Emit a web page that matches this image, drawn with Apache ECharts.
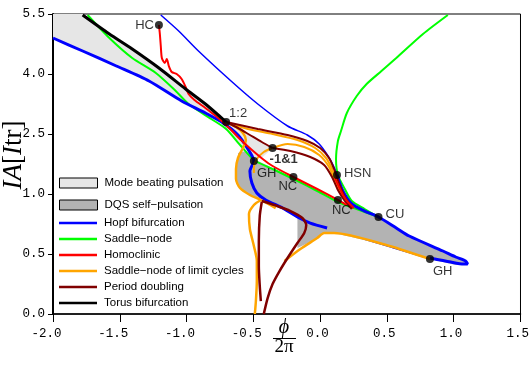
<!DOCTYPE html>
<html><head><meta charset="utf-8">
<script src="https://cdn.jsdelivr.net/npm/echarts@6/dist/echarts.min.js"></script>
<style>html,body{margin:0;padding:0;background:#fff}#c{width:532px;height:379px}</style>
</head><body><div id="c"></div>
<script>
// ---------- tick labels ----------
const xTicks = [-2.0, -1.5, -1.0, -0.5, 0.0, 0.5, 1.0, 1.5];
const yTickLabels = [0.0, 0.5, 1.0, 2.5, 4.0, 5.5];   // equally spaced ticks on the original axis

// ---------- regions (phi/2pi, I_A) ----------
const modeBeatingRegion = [[-2.0,5.5],[-1.778,5.5],[-1.578,5.0],[-1.407,4.625],[-1.207,4.15],[-1.007,3.625],[-0.859,3.25],[-0.704,2.8],[-0.615,2.65],[-0.526,2.475],[-0.437,2.3],[-0.356,2.15],[-0.430,1.925],[-0.496,1.875],[-0.541,2.075],[-0.593,2.2],[-0.704,2.625],[-0.726,2.775],[-0.859,3.025],[-1.037,3.325],[-1.281,3.825],[-1.526,4.2],[-1.778,4.575],[-2.0,4.9]];
const dqsRegion = [[-0.615,2.025],[-0.556,2.075],[-0.496,1.875],[-0.356,1.65],[-0.2,1.4],[-0.022,1.1],[0.133,0.942],[0.274,0.875],[0.437,0.808],[0.570,0.717],[0.667,0.65],[0.919,0.525],[1.067,0.458],[1.104,0.417],[1.015,0.408],[0.822,0.458],[0.519,0.567],[0.104,0.675],[0.030,0.675],[-0.059,0.608],[-0.170,0.55],[-0.170,0.725],[-0.170,0.808],[-0.281,0.883],[-0.407,0.95],[-0.504,0.975],[-0.593,1.125],[-0.630,1.375],[-0.630,1.675],[-0.615,1.9]];

// ---------- bifurcation curves ----------
const hopfLeft = [[-2.0,4.9],[-1.778,4.575],[-1.526,4.2],[-1.281,3.825],[-1.037,3.325],[-0.859,3.025],[-0.726,2.775],[-0.615,2.475],[-0.541,2.125],[-0.496,1.825],[-0.526,1.575],[-0.511,1.275],[-0.474,1.025],[-0.407,0.95],[-0.281,0.883],[-0.170,0.808],[-0.074,0.758],[0.052,0.717]];
const hopfLowerHidden = [[0.052,0.717],[0.274,0.65],[0.548,0.558],[0.822,0.467]];
const hopfRight = [[0.822,0.467],[0.978,0.433],[1.074,0.417],[1.104,0.417],[1.089,0.442],[1.015,0.475],[0.919,0.525],[0.667,0.65],[0.570,0.717],[0.437,0.808],[0.333,0.858],[0.237,0.917],[0.170,1.075],[0.126,1.475]];
const hopfUpper = [[-1.193,5.475],[-1.059,5.075],[-0.911,4.575],[-0.667,3.825],[-0.467,3.25],[-0.244,2.7],[-0.096,2.475],[-0.007,2.25],[0.059,1.95],[0.104,1.675],[0.126,1.475]];
const saddleNode = [[-1.741,5.475],[-1.578,4.9],[-1.407,4.4],[-1.230,4.025],[-1.081,3.575],[-0.985,3.25],[-0.815,2.875],[-0.704,2.625],[-0.593,2.2],[-0.496,1.85],[-0.356,1.625],[-0.2,1.375],[-0.022,1.075],[0.133,0.933],[0.274,0.875],[0.437,0.808],[0.333,0.875],[0.237,0.942],[0.185,1.125],[0.133,1.475],[0.119,1.875],[0.133,2.325],[0.156,2.575],[0.2,3.025],[0.274,3.45],[0.348,3.75],[0.459,4.075],[0.570,4.4],[0.770,5.0],[0.956,5.475]];
const homoclinicA = [[-1.207,5.225],[-1.2,5.0],[-1.193,4.7],[-1.185,4.4],[-1.163,4.275],[-1.148,4.375],[-1.133,4.2],[-1.111,4.05],[-1.074,4.0],[-1.037,3.875],[-1.007,3.675],[-0.985,3.5],[-0.941,3.35],[-0.859,3.15],[-0.763,2.9],[-0.674,2.625],[-0.593,2.35],[-0.519,2.125],[-0.430,1.875],[-0.356,1.7],[-0.2,1.425],[-0.022,1.125],[0.133,0.95],[0.2,0.908]];
const homoclinicB = [[0.111,1.4],[0.156,1.075],[0.2,0.942],[0.252,0.883]];
const snlcLeft = [[-0.704,2.8],[-0.630,2.675],[-0.578,2.525],[-0.556,2.35],[-0.578,2.15],[-0.615,1.9],[-0.630,1.625],[-0.630,1.375],[-0.6,1.15],[-0.526,0.992],[-0.444,0.95],[-0.333,0.883]];
const snlcLowerLeft = [[-0.444,0.95],[-0.496,0.908],[-0.533,0.833],[-0.526,0.708],[-0.496,0.567],[-0.474,0.442],[-0.474,0.275],[-0.481,0.108],[-0.489,0.0]];
const snlcLowerRight = [[-0.267,0.442],[-0.148,0.542],[-0.022,0.633],[0.030,0.675],[0.104,0.675],[0.519,0.567],[0.822,0.458]];
const snlcUpperA = [[-0.704,2.8],[-0.541,2.625],[-0.356,2.5],[-0.170,2.35],[-0.037,2.15],[0.044,1.9],[0.089,1.625],[0.133,1.25],[0.185,0.967],[0.244,0.883]];
const snlcUpperB = [[-0.356,2.15],[-0.244,2.25],[-0.119,2.175],[-0.007,1.975],[0.067,1.675],[0.111,1.325],[0.163,0.992],[0.222,0.9]];
const snlcShort = [[-0.356,2.15],[-0.422,2.05],[-0.474,1.875],[-0.496,1.675],[-0.496,1.525]];
const pdUpperA = [[-0.704,2.8],[-0.467,2.625],[-0.244,2.475],[-0.096,2.325],[0.0,2.15],[0.067,1.9],[0.104,1.625],[0.141,1.275],[0.185,0.975],[0.244,0.883]];
const pdLink = [[-0.704,2.8],[-0.615,2.65],[-0.526,2.475],[-0.437,2.3],[-0.356,2.15]];
const pdUpperB = [[-0.356,2.15],[-0.222,2.075],[-0.074,1.925],[0.030,1.725],[0.089,1.425],[0.133,1.1],[0.185,0.942],[0.237,0.875]];
const pdLowerA = [[-0.437,0.942],[-0.341,0.908],[-0.222,0.858],[-0.133,0.8],[-0.104,0.742],[-0.119,0.675],[-0.170,0.592],[-0.244,0.467],[-0.304,0.358],[-0.356,0.25],[-0.393,0.133],[-0.422,0.0]];
const pdLowerB = [[-0.437,0.933],[-0.452,0.817],[-0.459,0.608],[-0.459,0.4],[-0.452,0.233],[-0.444,0.108]];
const torus = [[-1.778,5.475],[-1.578,5.0],[-1.407,4.625],[-1.207,4.15],[-1.007,3.625],[-0.859,3.25],[-0.704,2.8]];

// ---------- special points ----------
const pointNames = ['HC','1:2','-1&1','GH','NC','HSN','NC','CU','GH'];
const pointX = [-1.207,-0.704,-0.356,-0.496,-0.2,0.126,0.133,0.437,0.822];
const pointY = [5.225,2.8,2.15,1.825,1.425,1.475,0.95,0.808,0.458];

// ---------- scale: piecewise-linear between the equally spaced ticks ----------
function toDisp(v){
  for (let k=0;k<yTickLabels.length-1;k++){
    const a=yTickLabels[k], b=yTickLabels[k+1];
    if (v<=b || k===yTickLabels.length-2) return k+(v-a)/(b-a);
  }
}
const P = pts => pts.map(p=>[p[0], toDisp(p[1])]);

const C = {blue:'#0000ff', green:'#00ff00', red:'#ff0000', orange:'#ffa500', brown:'#800000', black:'#000000', light:'#e6e6e6', dark:'#b3b3b3'};
const N = {mb:'Mode beating pulsation', dqs:'DQS self\u2212pulsation', hopf:'Hopf bifurcation', sn:'Saddle\u2212node', hom:'Homoclinic', snlc:'Saddle\u2212node of limit cycles', pd:'Period doubling', tor:'Torus bifurcation'};

function region(name, pts, fill){
  return {type:'custom', name, coordinateSystem:'cartesian2d', silent:true, z:2, clip:true,
    itemStyle:{color:fill, borderColor:'#000', borderWidth:1},
    data:[P(pts)[0]],
    renderItem:(params, api)=>({type:'polygon', shape:{points:P(pts).map(p=>api.coord(p))}, style:{fill:fill, stroke:null}})
  };
}
function line(name, pts, color, width, z){
  return {type:'line', name, data:P(pts), showSymbol:false, symbol:'none', smooth:0.25, silent:true, clip:true,
    lineStyle:{color, width}, itemStyle:{color}, z:z};
}

const labelPlace = [
  {position:'left', distance:0, offset:[-1,0]},
  {position:'right', distance:0, offset:[-1,-9]},
  {position:'right', distance:0, offset:[-7,11], fontWeight:'bold'},
  {position:'right', distance:0, offset:[-1,12]},
  {position:'right', distance:0, offset:[-19,9]},
  {position:'right', distance:0, offset:[3,-2]},
  {position:'right', distance:0, offset:[-10,10]},
  {position:'right', distance:0, offset:[3,-3]},
  {position:'right', distance:0, offset:[-1,12]}
];

const sans = 'Liberation Sans, Arial, sans-serif';
const serif = 'Liberation Serif, Times New Roman, serif';
const mono = 'Liberation Mono, Courier New, monospace';

const chart = echarts.init(document.getElementById('c'), null, {renderer:'canvas'});
chart.setOption({
  animation:false,
  backgroundColor:'#fff',
  grid:{left:53, right:7, top:14, bottom:65, show:true, borderColor:'#000', borderWidth:1, backgroundColor:'transparent'},
  xAxis:{type:'value', min:xTicks[0], max:xTicks[xTicks.length-1], interval:0.5,
    axisLine:{show:true, onZero:false, lineStyle:{color:'#000', width:1.5}},
    axisTick:{show:true, inside:false, length:8, lineStyle:{color:'#000', width:1}},
    axisLabel:{formatter:v=>v.toFixed(1).padStart(4,' '), fontFamily:mono, fontSize:12.5, color:'#000', margin:13, align:'center', padding:[0,13,0,0]},
    splitLine:{show:false}},
  yAxis:{type:'value', min:0, max:yTickLabels.length-1, interval:1,
    axisLine:{show:true, onZero:false, lineStyle:{color:'#000', width:2}},
    axisTick:{show:true, inside:false, length:5, lineStyle:{color:'#000', width:1}},
    axisLabel:{formatter:v=>yTickLabels[Math.round(v)].toFixed(1), fontFamily:mono, fontSize:12.5, color:'#000', margin:8, padding:[0,0,4,0]},
    splitLine:{show:false}},
  legend:[
    {orient:'vertical', left:59, top:177, padding:0, itemWidth:38, itemHeight:10, itemGap:10, icon:'rect', selectedMode:false,
      textStyle:{fontFamily:sans, fontSize:11.5, color:'#000', lineHeight:10, padding:[0,0,0,2]},
      data:[{name:N.mb, itemStyle:{color:C.light, borderColor:'#000', borderWidth:1}},
            {name:N.dqs, itemStyle:{color:C.dark, borderColor:'#000', borderWidth:1}}]},
    {orient:'vertical', left:59, top:217, padding:0, itemWidth:38, itemHeight:2.5, itemGap:4, icon:'rect', selectedMode:false,
      textStyle:{fontFamily:sans, fontSize:11.5, color:'#000', lineHeight:11.8, padding:[0,0,0,2]},
      data:[{name:N.hopf, itemStyle:{color:C.blue}}, {name:N.sn, itemStyle:{color:C.green}}, {name:N.hom, itemStyle:{color:C.red}},
            {name:N.snlc, itemStyle:{color:C.orange}}, {name:N.pd, itemStyle:{color:C.brown}}, {name:N.tor, itemStyle:{color:C.black}}]}
  ],
  graphic:[
    {type:'text', x:14, y:155, rotation:Math.PI/2, z:100,
      style:{text:'{i|IA}{r|[}{i|I}{r|tr]}', align:'center', verticalAlign:'middle',
        rich:{i:{fontFamily:serif, fontStyle:'italic', fontSize:27, fill:'#000'}, r:{fontFamily:serif, fontSize:27, fill:'#000'}}}},
    {type:'text', x:284, y:328, z:100, style:{text:'\u03d5', fontFamily:serif, fontStyle:'italic', fontSize:20, fill:'#000', align:'center', verticalAlign:'middle'}},
    {type:'line', z:100, shape:{x1:273, y1:338.5, x2:296, y2:338.5}, style:{stroke:'#000', lineWidth:1}},
    {type:'text', x:284, y:347, z:100, style:{text:'2\u03c0', fontFamily:serif, fontSize:19, fill:'#000', align:'center', verticalAlign:'middle'}}
  ],
  series:[
    line(N.hopf, hopfLowerHidden, C.blue, 3, 1),
    region(N.mb, modeBeatingRegion, C.light),
    region(N.dqs, dqsRegion, C.dark),
    line(N.sn, saddleNode, C.green, 2, 3),
    line(N.hopf, hopfLeft, C.blue, 3, 4),
    line(N.hopf, hopfRight, C.blue, 3, 4),
    line(N.hopf, hopfUpper, C.blue, 1.5, 4),
    line(N.snlc, snlcLeft, C.orange, 2.5, 5),
    line(N.snlc, snlcLowerLeft, C.orange, 2.5, 5),
    line(N.snlc, snlcLowerRight, C.orange, 2.5, 5),
    line(N.snlc, snlcUpperA, C.orange, 2, 5),
    line(N.snlc, snlcUpperB, C.orange, 2, 5),
    line(N.snlc, snlcShort, C.orange, 2, 5),
    line(N.pd, pdUpperA, C.brown, 2, 6),
    line(N.pd, pdLink, C.brown, 2, 6),
    line(N.pd, pdUpperB, C.brown, 2, 6),
    line(N.pd, pdLowerA, C.brown, 2.5, 6),
    line(N.pd, pdLowerB, C.brown, 2.5, 6),
    line(N.hom, homoclinicA, C.red, 2, 7),
    line(N.hom, homoclinicB, C.red, 2, 7),
    line(N.tor, torus, C.black, 3, 8),
    {type:'scatter', name:'points', symbol:'circle', symbolSize:8, z:10, silent:true,
      itemStyle:{color:'#000'},
      label:{show:true, formatter:'{b}', fontFamily:sans, fontSize:13, color:'#000'},
      data:pointNames.map((n,i)=>({name:n, value:[pointX[i], toDisp(pointY[i])], label:Object.assign({color:'#000'}, labelPlace[i])}))}
  ]
});
</script></body></html>
